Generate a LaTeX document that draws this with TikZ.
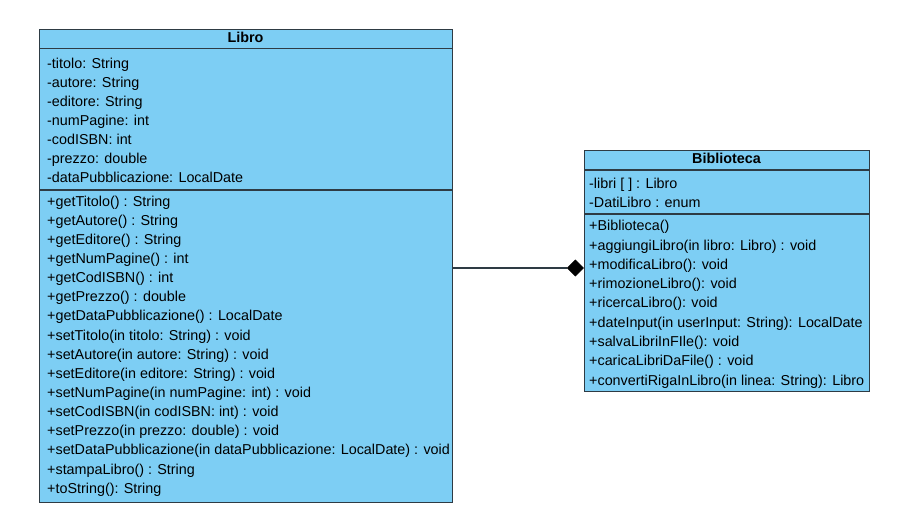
\documentclass[tikz,border=0pt]{standalone}
\usepackage{fontspec}
\setmainfont{Liberation Sans}
\usetikzlibrary{arrows.meta}
\definecolor{umlfill}{HTML}{7DCEF4}
\definecolor{umlline}{HTML}{2E3B44}
\begin{document}
\begin{tikzpicture}[x=1pt,y=-1pt,
  classbox/.style={draw=umlline, fill=umlfill, line width=1.2pt, rectangle, inner sep=0pt, anchor=north west},
  sepline/.style={draw=umlline, line width=1.2pt},
  umltext/.style={font=\fontsize{14.35}{17}\selectfont, inner sep=0pt, anchor=base west, text=black},
  umlhead/.style={font=\fontsize{14.35}{17}\selectfont\bfseries, inner sep=0pt, anchor=base, text=black},
  compo/.style={draw=umlline, line width=1.2pt},
  diamondtip/.style={fill=black, draw=black, line width=0.6pt, line join=miter}]
\useasboundingbox (0,0) rectangle (897,524);
\fill[white] (0,0) rectangle (897,524);
% Libro
\node[classbox, minimum width=413pt, minimum height=473pt] (libro) at (39,29) {};
\draw[sepline] (libro.west |- 0,48.5) -- (libro.east |- 0,48.5);
\draw[sepline] (libro.west |- 0,190) -- (libro.east |- 0,190);
\node[umlhead] (libroname) at (245.5,42.7) {Libro};
\foreach \t [count=\i from 0] in {{-titolo: String},{-autore: String},{-editore: String},{-numPagine: int},{-codISBN: int},{-prezzo: double},{-dataPubblicazione: LocalDate}}
  \node[umltext] (la\i) at (47,{68.3+19.05*\i}) {\t};
\foreach \t [count=\i from 0] in {{+getTitolo() : String},{+getAutore() : String},{+getEditore() : String},{+getNumPagine() : int},{+getCodISBN() : int},{+getPrezzo() : double},{+getDataPubblicazione() : LocalDate},{+setTitolo(in titolo: String) : void},{+setAutore(in autore: String) : void},{+setEditore(in editore: String) : void},{+setNumPagine(in numPagine: int) : void},{+setCodISBN(in codISBN: int) : void},{+setPrezzo(in prezzo: double) : void},{+setDataPubblicazione(in dataPubblicazione: LocalDate) : void},{+stampaLibro() : String},{+toString(): String}}
  \node[umltext] (lm\i) at (47,{206+19.15*\i}) {\t};
% Biblioteca
\node[classbox, minimum width=285pt, minimum height=241pt] (biblio) at (584,150) {};
\draw[sepline] (biblio.west |- 0,170) -- (biblio.east |- 0,170);
\draw[sepline] (biblio.west |- 0,214) -- (biblio.east |- 0,214);
\node[umlhead] (biblioname) at (726.5,163.3) {Biblioteca};
\foreach \t [count=\i from 0] in {{-libri [ ] : Libro},{-DatiLibro : enum}}
  \node[umltext] (ba\i) at (589,{188.3+19.1*\i}) {\t};
\foreach \t [count=\i from 0] in {{+Biblioteca()},{+aggiungiLibro(in libro: Libro) : void},{+modificaLibro(): void},{+rimozioneLibro(): void},{+ricercaLibro(): void},{+dateInput(in userInput: String): LocalDate},{+salvaLibriInFIle(): void},{+caricaLibriDaFile() : void},{+convertiRigaInLibro(in linea: String): Libro}}
  \node[umltext] (bm\i) at (589,{230.7+19.3*\i}) {\t};
% composition
\coordinate (cy) at (0,268);
\coordinate (dtip) at ([xshift=-0.6pt]biblio.west |- cy);
\coordinate (dback) at ([xshift=-16pt]dtip);
\draw[compo] (libro.east |- cy) -- (dback);
\fill[diamondtip] (dtip) -- ++(-8,-8) -- (dback) -- ++(8,8) -- cycle;
\end{tikzpicture}
\end{document}
